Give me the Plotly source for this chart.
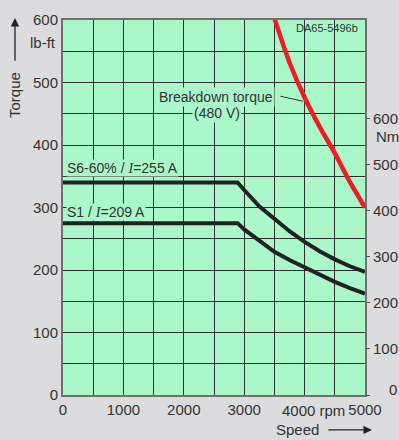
import plotly.graph_objects as go

FONT = "Liberation Sans, Arial, sans-serif"
TXT = "#333333"
PLOT_BG = "#aaf7c9"
PAPER_BG = "#dcdcde"

# ---- data ----
speed_s6 = [0, 2890, 3000, 3250, 3500, 3750, 4000, 4250, 4500, 4750, 5000]
torque_s6 = [340, 340, 328, 302, 282, 262, 245, 230, 217, 206, 197]

speed_s1 = [0, 2890, 3000, 3250, 3500, 3750, 4000, 4250, 4500, 4750, 5000]
torque_s1 = [275, 275, 265, 246, 229, 216, 204, 192, 181, 171, 162]

speed_bd = [3450, 3510, 3750, 4000, 4250, 4500, 4750, 5000]
torque_bd = [618, 600, 532, 476, 429, 387, 341, 300]

x_tickvals = [0, 1000, 2000, 3000, 5000]
x_ticktext = ["0", "1000", "2000", "3000", "5000"]
y_tickvals = [0, 100, 200, 300, 400, 500, 600]
nm_tickvals = [0, 100, 200, 300, 400, 500, 600]
nm_ticktext = ["", "100", "200", "300", "400", "500", "600"]
LBFT_TO_NM = 1.3558

fig = go.Figure()
fig.add_trace(go.Scatter(x=speed_s6, y=torque_s6, mode="lines",
                         line=dict(color="#222222", width=4), showlegend=False))
fig.add_trace(go.Scatter(x=speed_s1, y=torque_s1, mode="lines",
                         line=dict(color="#222222", width=4), showlegend=False))
fig.add_trace(go.Scatter(x=speed_bd, y=torque_bd, mode="lines",
                         line=dict(color="#ee1c24", width=4.5, shape="spline",
                                   smoothing=1.0), showlegend=False))
# invisible trace to activate the Nm axis
fig.add_trace(go.Scatter(x=[0], y=[0], yaxis="y2", mode="markers",
                         marker=dict(opacity=0), showlegend=False, hoverinfo="skip"))

grid_c = "#2e2e2e"
fig.update_layout(
    width=399, height=440,
    margin=dict(l=63, r=34, t=20, b=45, autoexpand=False),
    paper_bgcolor=PAPER_BG, plot_bgcolor=PLOT_BG,
    font=dict(family=FONT, size=15, color=TXT),
    xaxis=dict(range=[0, 5000], tickvals=x_tickvals, ticktext=x_ticktext,
               tickangle=0, automargin=False,
               showgrid=True, gridcolor=grid_c, gridwidth=1,
               minor=dict(dtick=500, showgrid=True, gridcolor=grid_c, gridwidth=1),
               showline=True, linecolor="#707070", linewidth=2, mirror=True,
               ticks="", zeroline=False, tickfont=dict(size=15, color=TXT)),
    yaxis=dict(range=[0, 600], tickvals=y_tickvals, automargin=False,
               showgrid=True, gridcolor=grid_c, gridwidth=1,
               minor=dict(dtick=50, showgrid=True, gridcolor=grid_c, gridwidth=1),
               showline=True, linecolor="#707070", linewidth=2, mirror=True,
               ticks="", zeroline=False, tickfont=dict(size=15, color=TXT)),
    yaxis2=dict(range=[0, 600 * LBFT_TO_NM], tickvals=nm_tickvals, ticktext=nm_ticktext,
                overlaying="y",
                side="right", showgrid=False, zeroline=False, showline=False,
                automargin=False, ticks="outside", ticklen=4, tickcolor="#555555",
                tickfont=dict(size=15, color=TXT)),
)

def ann(text, x, y, xref="x", yref="y", xanchor="center", size=14, **kw):
    fig.add_annotation(text=text, x=x, y=y, xref=xref, yref=yref, xanchor=xanchor,
                       yanchor="middle", showarrow=False,
                       font=dict(family=FONT, size=size, color=TXT), **kw)

ITAL = '<span style="font-family:Liberation Serif, Times New Roman, serif"><i>I</i></span>'
ann("S6-60% / " + ITAL + "=255 A", 0, 363, xanchor="left", xshift=3,
    bgcolor=PLOT_BG, borderpad=0)
ann("S1 / " + ITAL + "=209 A", 0, 293, xanchor="left", xshift=3,
    bgcolor=PLOT_BG, borderpad=0)
ann("Breakdown torque", 2533, 477, bgcolor=PLOT_BG, borderpad=1)
ann("(480 V)", 2545, 451, bgcolor=PLOT_BG, borderpad=1)
ann("DA65-5496b", 0.983, 0.979, xref="paper", yref="paper", xanchor="right", size=11)
ann("lb-ft", -0.016, 0.941, xref="paper", yref="paper", xanchor="right", size=15)
ann("Nm", 1.030, 0.69, xref="paper", yref="paper", xanchor="left", size=15)
ann("0", 1.093, 0.015, xref="paper", yref="paper", size=15)
ann("4000 rpm", 0.94, -0.04, xref="paper", yref="paper", xanchor="right", size=15)
ann("Torque", -0.159, 0.80, xref="paper", yref="paper", size=15, textangle=-90)
ann("Speed", 0.775, -0.093, xref="paper", yref="paper", size=15)

# leader line for breakdown torque
fig.add_shape(type="line", x0=3600, y0=478, x1=3975, y1=470,
              line=dict(color="#333333", width=1))

# axis arrows
fig.add_annotation(x=-0.159, y=1.005, xref="paper", yref="paper", text="",
                   showarrow=True, ax=0, ay=44, arrowhead=2, arrowsize=1.3,
                   arrowwidth=1.3, arrowcolor="#222222")
fig.add_annotation(x=1.023, y=-0.093, xref="paper", yref="paper", text="",
                   showarrow=True, ax=-45, ay=0, arrowhead=2, arrowsize=1.3,
                   arrowwidth=1.3, arrowcolor="#222222")

fig.write_html("out.html", config={"displayModeBar": False},
               post_script="document.body.style.margin='0px';"
                           "document.body.style.background='#dcdcde';")
